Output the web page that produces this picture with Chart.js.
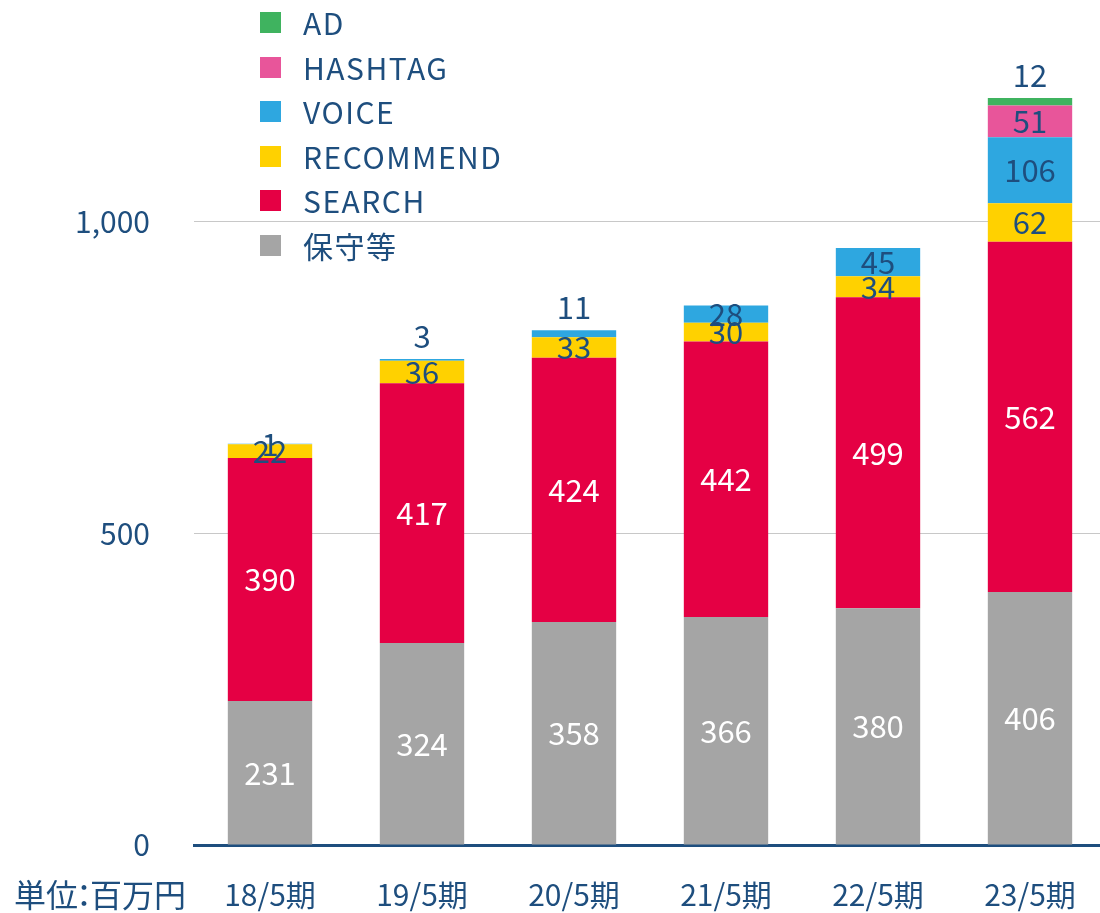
<!DOCTYPE html>
<html>
<head>
<meta charset="utf-8">
<script src="https://cdn.jsdelivr.net/npm/chart.js@4/dist/chart.umd.min.js"></script>
<style>
  html, body { margin: 0; padding: 0; background: #fff; overflow: hidden; }
  #wrap { position: relative; width: 1106px; height: 913px; }
  #legend { position: absolute; left: 260px; top: 0; margin: 0; padding: 0; list-style: none;
            font-family: 'Noto Sans CJK JP', 'Noto Sans', sans-serif; font-size: 30px; color: #1E4E7E;
            letter-spacing: 1.5px; }
  #legend li { position: relative; height: 44.5px; line-height: 44.5px; padding-left: 43px; white-space: nowrap; }
  #legend li span { position: absolute; left: 0; top: 12px; width: 21px; height: 21px; }
</style>
</head>
<body>
<div id="wrap">
  <canvas id="chart" width="1106" height="913"></canvas>
  <ul id="legend"></ul>
</div>
<script>
// Data
const categories = ['18/5期', '19/5期', '20/5期', '21/5期', '22/5期', '23/5期'];
const hoshu = [231, 324, 358, 366, 380, 406];
const search = [390, 417, 424, 442, 499, 562];
const recommend = [22, 36, 33, 30, 34, 62];
const voice = [1, 3, 11, 28, 45, 106];
const hashtag = [null, null, null, null, null, 51];
const ad = [null, null, null, null, null, 12];
const yTicks = [0, 500, 1000];
const unitParts = ['単位', '：', '百万円'];

// Style
const FONT = "'Noto Sans CJK JP', 'Noto Sans', sans-serif";
const NAVY = '#1E4E7E';

const seriesDefs = [
    { label: '保守等', data: hoshu, color: '#A5A5A5', text: '#ffffff' },
    { label: 'SEARCH', data: search, color: '#E50044', text: '#ffffff' },
    { label: 'RECOMMEND', data: recommend, color: '#FFD100', text: NAVY },
    { label: 'VOICE', data: voice, color: '#2EA7E0', text: NAVY, above: [1, 2] },
    { label: 'HASHTAG', data: hashtag, color: '#E8559A', text: NAVY },
    { label: 'AD', data: ad, color: '#3FB35F', text: NAVY, above: [5] }
];

// Value labels drawn on each segment
const valueLabels = {
    id: 'valueLabels',
    afterDatasetsDraw(chart) {
        const ctx = chart.ctx;
        ctx.save();
        ctx.font = '31px ' + FONT;
        ctx.textAlign = 'center';
        ctx.textBaseline = 'middle';
        chart.data.datasets.forEach((ds, di) => {
            const def = seriesDefs[di];
            chart.getDatasetMeta(di).data.forEach((el, i) => {
                const v = ds.data[i];
                if (v === null || v === undefined) return;
                const isAbove = def.above && def.above.includes(i);
                const y = isAbove ? el.y - 23 : (el.y + el.base) / 2;
                ctx.fillStyle = isAbove ? NAVY : def.text;
                ctx.fillText(String(v), el.x, y);
            });
        });
        ctx.restore();
    }
};

// Unit text under the y axis (colon kept narrow like the original)
const unitText = {
    id: 'unitText',
    afterDraw(chart) {
        const ctx = chart.ctx;
        ctx.save();
        ctx.font = '32px ' + FONT;
        ctx.fillStyle = NAVY;
        ctx.textAlign = 'left';
        ctx.textBaseline = 'middle';
        let x = 14;
        ctx.fillText(unitParts[0], x, 895);
        x += ctx.measureText(unitParts[0]).width;
        ctx.fillText(unitParts[1], x - 10, 895);
        x += 12;
        ctx.fillText(unitParts[2], x, 895);
        ctx.restore();
    }
};

const chart = new Chart(document.getElementById('chart'), {
    type: 'bar',
    data: {
        labels: categories,
        datasets: seriesDefs.map(s => ({
            label: s.label,
            data: s.data,
            backgroundColor: s.color,
            borderWidth: 0,
            barPercentage: 0.555,
            categoryPercentage: 1
        }))
    },
    options: {
        responsive: false,
        devicePixelRatio: 1,
        animation: false,
        layout: { padding: { top: 35, left: 0, right: 0, bottom: 0 } },
        plugins: { legend: { display: false }, tooltip: { enabled: false } },
        scales: {
            x: {
                stacked: true,
                grid: { display: false },
                border: { display: true, color: NAVY, width: 3 },
                ticks: { color: NAVY, font: { family: FONT, size: 30 }, padding: 24, maxRotation: 0 },
                afterFit: (s) => { s.height = 68; s.paddingLeft = 0; s.paddingRight = 0; }
            },
            y: {
                stacked: true,
                min: 0,
                max: 1300,
                border: { display: false },
                grid: { color: '#C8C8C8', lineWidth: 1, drawTicks: false },
                ticks: {
                    padding: 44,
                    color: NAVY,
                    font: { family: FONT, size: 30 },
                    callback: (v) => v.toLocaleString('en-US')
                },
                afterBuildTicks: (s) => { s.ticks = yTicks.map(v => ({ value: v })); },
                afterFit: (s) => { s.width = 194; s.paddingTop = 0; s.paddingBottom = 0; }
            }
        }
    },
    plugins: [valueLabels, unitText]
});

// Legend (top series first)
const legend = document.getElementById('legend');
seriesDefs.slice().reverse().forEach(s => {
    const li = document.createElement('li');
    const sw = document.createElement('span');
    sw.style.background = s.color;
    li.appendChild(sw);
    li.appendChild(document.createTextNode(s.label));
    legend.appendChild(li);
});
</script>
</body>
</html>
